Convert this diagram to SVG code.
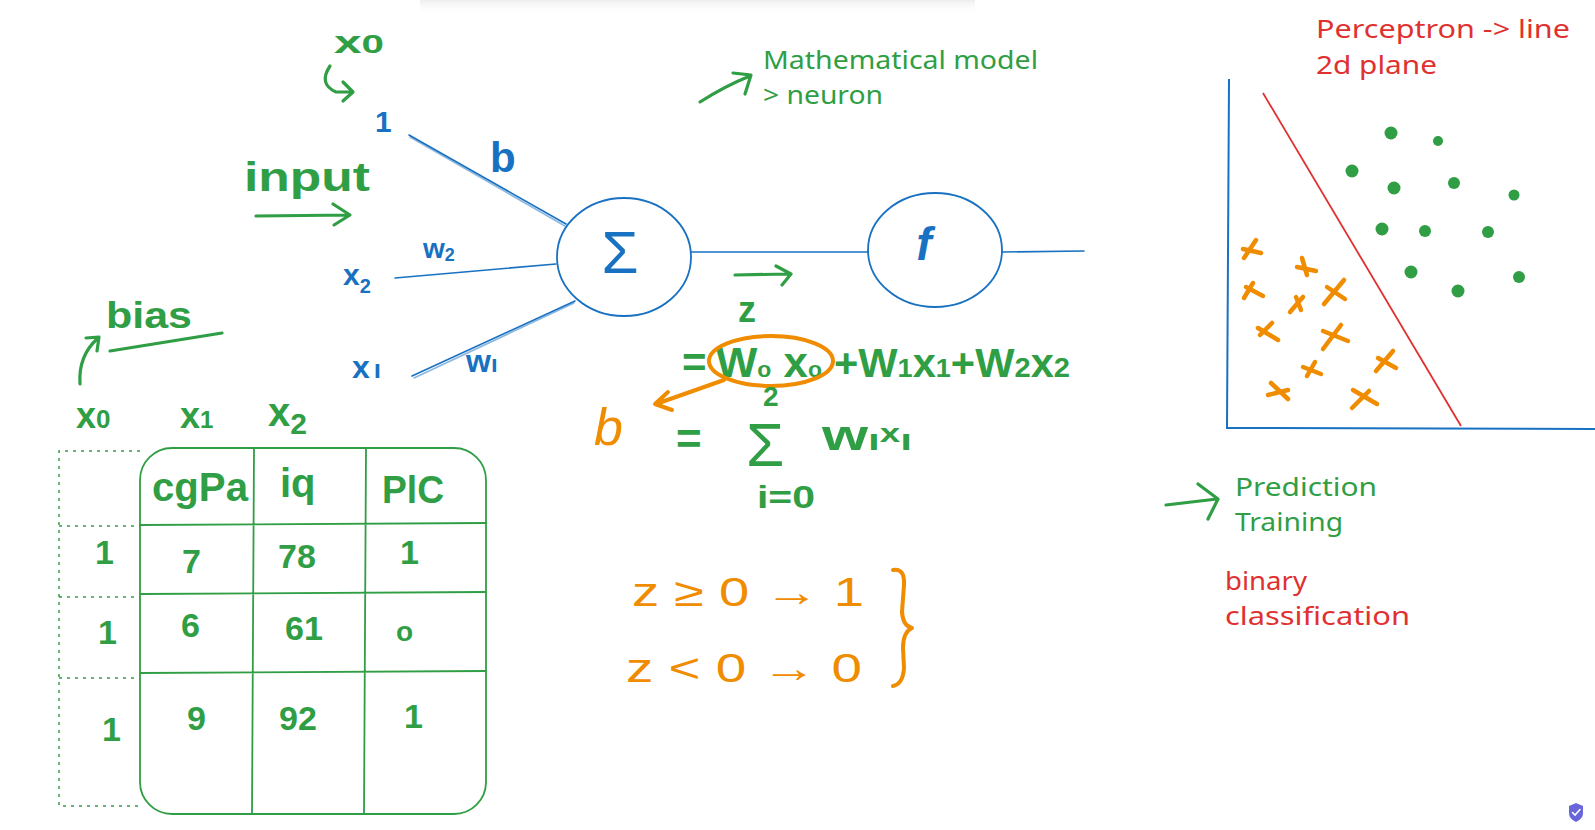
<svg xmlns="http://www.w3.org/2000/svg" width="1595" height="830" viewBox="0 0 1595 830">
<style>
.g{fill:#2f9e44}
.b{fill:#1971c2}
.o{fill:#f08c00}
.r{fill:#e03131}
.t{font-family:"Liberation Sans","DejaVu Sans",sans-serif}
.hw{font-family:"Liberation Sans","DejaVu Sans",sans-serif;font-weight:bold}
.typed{font-family:"Noto Sans","Liberation Sans",sans-serif;font-size:26px}
.ln{fill:none;stroke:#1971c2;stroke-width:1.6;stroke-linecap:round}
.gs{fill:none;stroke:#2f9e44;stroke-width:3.2;stroke-linecap:round;stroke-linejoin:round}
.os{fill:none;stroke:#f08c00;stroke-width:4;stroke-linecap:round;stroke-linejoin:round}
.tb{fill:none;stroke:#2f9e44;stroke-width:1.8}
.dash{fill:none;stroke:#2f9e44;stroke-width:1.5;stroke-dasharray:3 5}
.dot{fill:#2f9e44}
.cross{fill:none;stroke:#f08c00;stroke-width:4.5;stroke-linecap:round}
</style>
<defs>
<linearGradient id="shadow" x1="0" y1="0" x2="0" y2="1">
<stop offset="0" stop-color="#e6e6e6" stop-opacity="0.7"/>
<stop offset="1" stop-color="#ffffff" stop-opacity="0"/>
</linearGradient>
</defs>
<rect width="1595" height="830" fill="#ffffff"/>
<rect x="420" y="0" width="555" height="14" fill="url(#shadow)"/>

<!-- connectors -->
<g id="connectors">
<path class="ln" d="M409 135 L566 224"/>
<path class="ln" d="M410 137 L565 226" stroke-opacity="0.5"/>
<path class="ln" d="M395 278 L556 264"/>
<path class="ln" d="M412 376 L575 301"/>
<path class="ln" d="M414 378 L574 303" stroke-opacity="0.5"/>
<path class="ln" d="M691 252 L868 252"/>
<path class="ln" d="M1002 252 L1084 251"/>
</g>

<!-- neuron nodes -->
<g id="node-sum">
<ellipse cx="624" cy="257" rx="67" ry="59" fill="none" stroke="#1971c2" stroke-width="1.8"/>
<text class="t b" x="620" y="273" font-size="60" text-anchor="middle">Σ</text>
</g>
<g id="node-f">
<ellipse cx="935" cy="250" rx="67" ry="57" fill="none" stroke="#1971c2" stroke-width="1.8"/>
<text class="hw b" x="924" y="260" font-size="46" font-style="italic" text-anchor="middle">f</text>
</g>

<!-- inputs -->
<g id="inputs">
<text class="hw g" x="334" y="53" font-size="32" textLength="50" lengthAdjust="spacingAndGlyphs">x<tspan font-size="26">0</tspan></text>
<path class="gs" d="M330 66 Q318 84 336 92 L352 92 M343 82 L353 92 L343 101"/>
<text class="hw b" x="375" y="132" font-size="30">1</text>
<text class="hw b" x="490" y="172" font-size="42">b</text>
<text class="hw g" x="244" y="191" font-size="40" textLength="126" lengthAdjust="spacingAndGlyphs">input</text>
<path class="gs" d="M256 216 L350 215 M333 204 L350 215 L334 225"/>
<text class="hw b" x="343" y="285" font-size="30">x<tspan font-size="20" dy="8">2</tspan></text>
<text class="hw b" x="423" y="258" font-size="28">w<tspan font-size="18" dy="3">2</tspan></text>
<text class="hw b" x="352" y="378" font-size="32">x<tspan font-size="26" dx="4">ı</tspan></text>
<text class="hw b" x="466" y="372" font-size="32">w<tspan font-size="24">ı</tspan></text>
</g>

<!-- annotation: mathematical model -->
<g id="note-model">
<path class="gs" d="M700 102 Q725 86 750 76 M733 73 L751 75 L745 94" stroke-width="2.8"/>
<text class="typed g" x="763" y="69" textLength="275" lengthAdjust="spacingAndGlyphs">Mathematical model</text>
<text class="typed g" x="763" y="104" textLength="120" lengthAdjust="spacingAndGlyphs">&gt; neuron</text>
</g>

<!-- equation -->
<g id="equation">
<path class="gs" d="M735 275 L790 274 M776 266 L791 274 L782 285"/>
<text class="hw g" x="738" y="322" font-size="36">z</text>
<text class="hw g" x="682" y="377" font-size="42">=</text>
<text class="hw g" x="716" y="377" font-size="42" textLength="106" lengthAdjust="spacingAndGlyphs">W<tspan font-size="22">o</tspan> x<tspan font-size="22">o</tspan></text>
<text class="hw g" x="834" y="377" font-size="40" textLength="236" lengthAdjust="spacingAndGlyphs">+W<tspan font-size="26">1</tspan>x<tspan font-size="26">1</tspan>+W<tspan font-size="28">2</tspan>x<tspan font-size="28">2</tspan></text>
<ellipse cx="771" cy="361" rx="62" ry="25" class="os" stroke-width="5"/>
<path class="os" d="M724 380 Q690 392 656 404 M668 392 L655 404 L672 410" stroke-width="3"/>
<text class="t o" x="594" y="445" font-size="52" font-style="italic">b</text>
<text class="hw g" x="676" y="454" font-size="44">=</text>
<text class="hw g" x="763" y="406" font-size="28">2</text>
<text class="t g" x="746" y="466" font-size="62">Σ</text>
<text class="hw g" x="822" y="450" font-size="42" textLength="90" lengthAdjust="spacingAndGlyphs">w<tspan font-size="30">ı</tspan><tspan font-size="26" dy="-8">x</tspan><tspan font-size="30" dy="8">ı</tspan></text>
<text class="hw g" x="757" y="508" font-size="32" textLength="58" lengthAdjust="spacingAndGlyphs">i=0</text>
</g>

<!-- conditions -->
<g id="conditions">
<text class="t o" x="632" y="606" font-size="40" textLength="232" lengthAdjust="spacingAndGlyphs">z ≥ 0 → 1</text>
<text class="t o" x="626" y="682" font-size="40" textLength="236" lengthAdjust="spacingAndGlyphs">z &lt; 0 → 0</text>
<path class="os" d="M893 570 Q905 568 904 585 L902 612 Q903 626 912 628 Q903 632 903 648 L904 668 Q903 684 893 686"/>
</g>

<!-- bias & table -->
<g id="bias-note">
<text class="hw g" x="106" y="328" font-size="36" textLength="86" lengthAdjust="spacingAndGlyphs">bias</text>
<path class="gs" d="M110 351 L222 333"/>
<path class="gs" d="M80 384 Q78 356 98 338 M86 338 L99 337 L97 351"/>
</g>
<g id="table">
<text class="hw g" x="76" y="428" font-size="36">x<tspan font-size="26">0</tspan></text>
<text class="hw g" x="180" y="428" font-size="36">x<tspan font-size="24">1</tspan></text>
<text class="hw g" x="268" y="426" font-size="40">x<tspan font-size="30" dy="8">2</tspan></text>
<path class="dash" d="M140 451 L59 451 L59 806 L140 806 M59 526 L140 526 M59 597 L140 597 M59 678 L140 678"/>
<rect class="tb" x="140" y="448" width="346" height="366" rx="32"/>
<path class="tb" d="M254 448 L252 814 M366 448 L364 814 M140 525 L486 523 M140 594 L486 592 M140 673 L486 671"/>
<text class="hw g" x="152" y="501" font-size="40" textLength="96" lengthAdjust="spacingAndGlyphs">cgPa</text>
<text class="hw g" x="280" y="497" font-size="40">iq</text>
<text class="hw g" x="382" y="503" font-size="38" textLength="62" lengthAdjust="spacingAndGlyphs">PlC</text>
<g class="hw g" font-size="34">
<text x="95" y="564">1</text>
<text x="182" y="573">7</text>
<text x="278" y="568">78</text>
<text x="400" y="564">1</text>
<text x="98" y="644">1</text>
<text x="181" y="637">6</text>
<text x="285" y="640">61</text>
<text x="396" y="641" font-size="28">o</text>
<text x="102" y="741">1</text>
<text x="187" y="730">9</text>
<text x="279" y="730">92</text>
<text x="404" y="728">1</text>
</g>
</g>

<!-- plot -->
<g id="plot">
<text class="typed r" x="1316" y="38" font-size="28" textLength="254" lengthAdjust="spacingAndGlyphs">Perceptron -&gt; line</text>
<text class="typed r" x="1316" y="74" font-size="28" textLength="121" lengthAdjust="spacingAndGlyphs">2d plane</text>
<path d="M1229 79 L1227 428 L1595 429" fill="none" stroke="#1971c2" stroke-width="2"/>
<path d="M1263 93 L1461 426" fill="none" stroke="#e03131" stroke-width="1.8"/>
<g>
<circle class="dot" cx="1391" cy="133" r="6.5"/>
<circle class="dot" cx="1438" cy="141" r="5"/>
<circle class="dot" cx="1352" cy="171" r="6.5"/>
<circle class="dot" cx="1394" cy="188" r="6.5"/>
<circle class="dot" cx="1454" cy="183" r="6"/>
<circle class="dot" cx="1514" cy="195" r="5.5"/>
<circle class="dot" cx="1382" cy="229" r="6.5"/>
<circle class="dot" cx="1425" cy="231" r="6"/>
<circle class="dot" cx="1488" cy="232" r="6"/>
<circle class="dot" cx="1411" cy="272" r="6.5"/>
<circle class="dot" cx="1458" cy="291" r="6.5"/>
<circle class="dot" cx="1519" cy="277" r="6"/>
</g>
<g>
<path class="cross" d="M1244 258 L1256 240 M1243 249 L1261 253"/>
<path class="cross" d="M1302 258 L1307 275 M1297 267 L1316 271"/>
<path class="cross" d="M1244 298 L1253 283 M1246 287 L1263 296"/>
<path class="cross" d="M1324 304 L1344 280 M1327 287 L1345 299"/>
<path class="cross" d="M1290 312 L1303 297 M1296 297 L1301 310"/>
<path class="cross" d="M1258 328 L1278 340 M1260 335 L1272 323"/>
<path class="cross" d="M1323 349 L1341 325 M1323 331 L1348 341"/>
<path class="cross" d="M1376 371 L1393 351 M1378 358 L1396 368"/>
<path class="cross" d="M1303 367 L1321 374 M1307 376 L1315 362"/>
<path class="cross" d="M1268 395 L1288 390 M1271 383 L1288 399"/>
<path class="cross" d="M1353 390 L1377 404 M1352 408 L1369 391"/>
</g>
</g>

<g id="note-tasks">
<path class="gs" d="M1166 505 L1217 499 M1198 484 L1218 499 L1208 519" stroke-width="3"/>
<text class="typed g" x="1235" y="496" textLength="142" lengthAdjust="spacingAndGlyphs">Prediction</text>
<text class="typed g" x="1235" y="531" textLength="108" lengthAdjust="spacingAndGlyphs">Training</text>
<text class="typed r" x="1225" y="590" textLength="82" lengthAdjust="spacingAndGlyphs">binary</text>
<text class="typed r" x="1225" y="625" textLength="185" lengthAdjust="spacingAndGlyphs">classification</text>
</g>

<g id="badge">
<path d="M1569 806 L1576 803 L1583 806 L1583 813 Q1583 819 1576 822 Q1569 819 1569 813 Z" fill="#6965db"/>
<path d="M1572.5 812.5 L1575 815 L1580 809.5" fill="none" stroke="#ffffff" stroke-width="1.6" stroke-linecap="round"/>
</g>
</svg>
